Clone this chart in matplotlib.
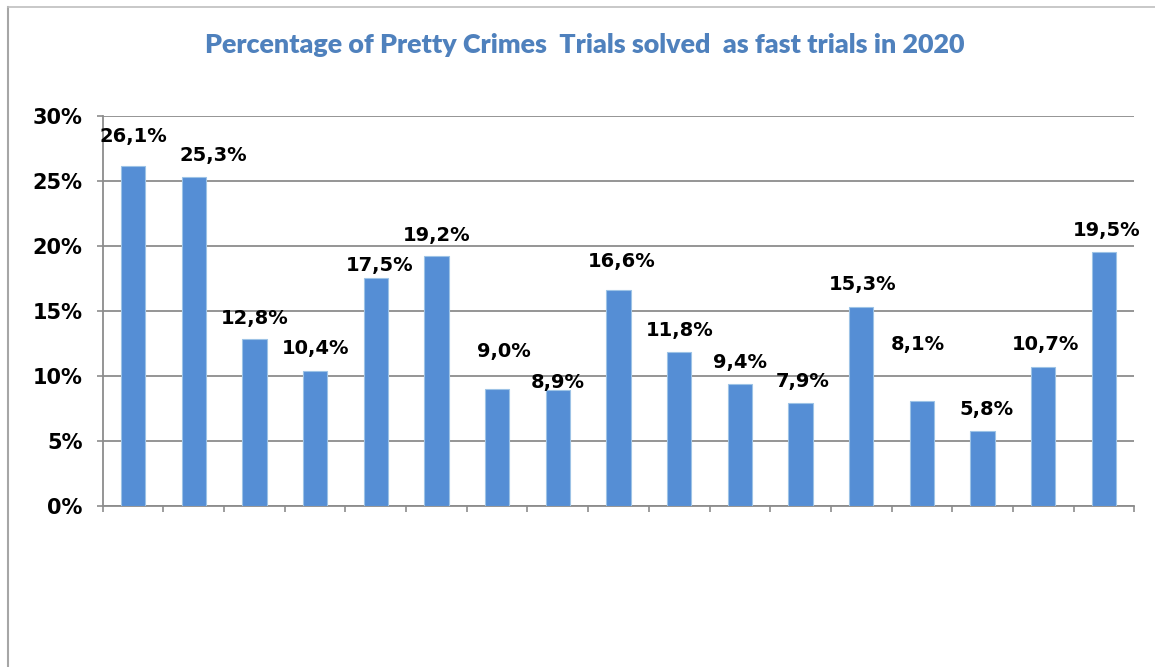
import matplotlib.pyplot as plt
from matplotlib.lines import Line2D
import numpy as np

# Data (values in percent, one bar per category, no category labels shown)
values = [26.1, 25.3, 12.8, 10.4, 17.5, 19.2, 9.0, 8.9, 16.6, 11.8,
          9.4, 7.9, 15.3, 8.1, 5.8, 10.7, 19.5]
value_labels = ['26,1%', '25,3%', '12,8%', '10,4%', '17,5%', '19,2%', '9,0%',
                '8,9%', '16,6%', '11,8%', '9,4%', '7,9%', '15,3%', '8,1%',
                '5,8%', '10,7%', '19,5%']
yticks = [0, 5, 10, 15, 20, 25, 30]
ytick_labels = ['0%', '5%', '10%', '15%', '20%', '25%', '30%']
title = 'Percentage of Pretty Crimes  Trials solved  as fast trials in 2020'

# where Excel put the data labels (label centre height in %, x shift in bar slots)
label_y = [28.4, 26.9, 14.4, 12.1, 18.45, 20.8, 11.9, 9.5, 18.8, 13.45,
           11.05, 9.55, 17.0, 12.4, 7.45, 12.4, 21.2]
label_dx = [0, 0.33, 0, 0, 0.06, 0, 0.11, 0, 0.06, 0,
            0, 0.03, 0.03, -0.07, 0.07, 0.03, 0.04]

bar_color = '#558ED5'
grid_color = '#8C8C8C'
title_color = '#4F81BD'

fig = plt.figure(figsize=(11.55, 6.67), dpi=100)
ax = fig.add_axes([0.0889, 0.2414, 0.8932, 0.5852])

x = np.arange(len(values))
ax.bar(x, values, width=0.4, color=bar_color, edgecolor='#9DC3E6',
       linewidth=0.8, zorder=3)

for i, (lab, ly, dx) in enumerate(zip(value_labels, label_y, label_dx)):
    ax.text(i + dx, ly, lab, ha='center', va='center', fontsize=14,
            fontweight='bold', family='DejaVu Sans', color='black', zorder=4)

ax.set_xlim(-0.5, len(values) - 0.5)
ax.set_ylim(0, 30)
ax.set_yticks(yticks)
ax.set_yticklabels(ytick_labels, fontsize=15, fontweight='bold')
ax.set_xticks(np.arange(-0.5, len(values), 1.0))
ax.set_xticklabels([])
ax.tick_params(axis='both', direction='out', length=4.5, width=1.2,
               color=grid_color)
ax.tick_params(axis='y', pad=10)

ax.grid(axis='y', color=grid_color, linewidth=1.3, zorder=0)
ax.set_axisbelow(True)
for side in ['top', 'right']:
    ax.spines[side].set_visible(False)
for side in ['left', 'bottom']:
    ax.spines[side].set_color(grid_color)
    ax.spines[side].set_linewidth(1.3)

fig.text(0.506, 0.932, title, ha='center', va='center', fontsize=19.4,
         fontweight='heavy', family='Lato', color=title_color)

# outer chart border (only left and top edges are visible in the crop)
fig.add_artist(Line2D([0.0069, 0.0069], [0, 0.99], color='#A6A6A6', lw=1.5))
fig.add_artist(Line2D([0.0069, 1.0], [0.99, 0.99], color='#BFBFBF', lw=1.2))

fig.savefig('out.png', dpi=100, facecolor='white')
